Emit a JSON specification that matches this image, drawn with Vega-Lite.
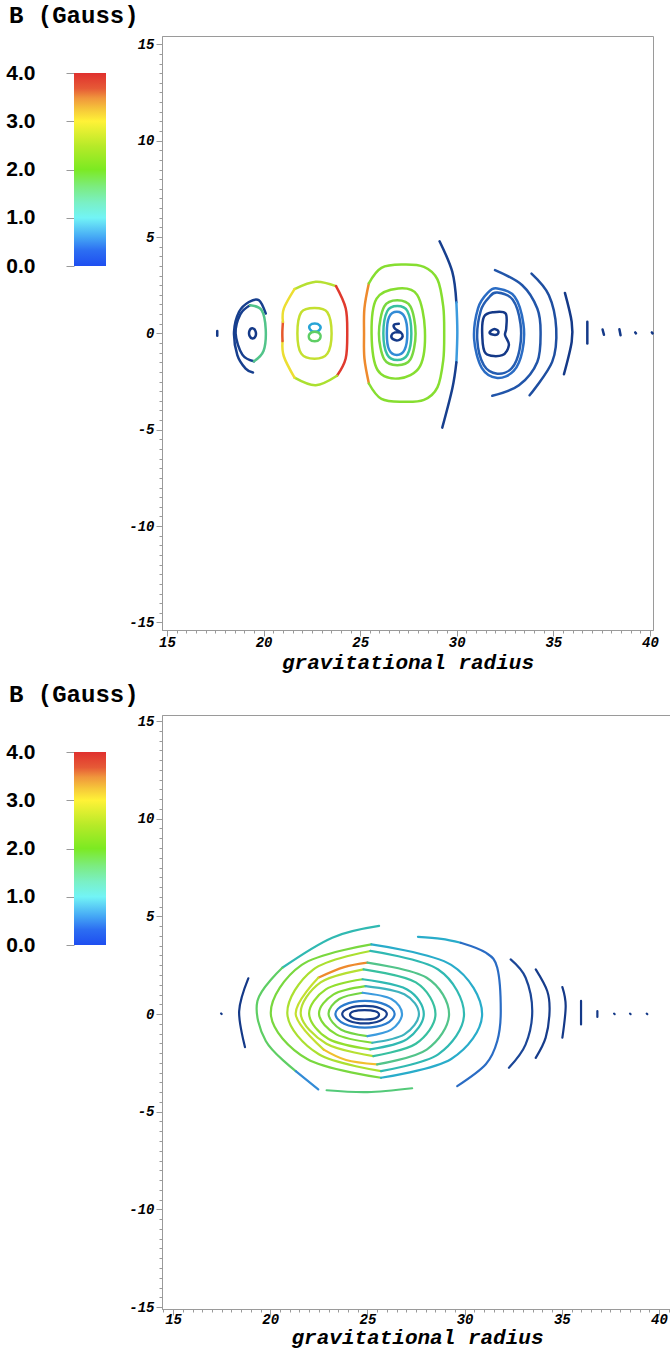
{
"$schema":"https://vega.github.io/schema/vega-lite/v6.json",
"padding":{"left":5,"top":4,"right":0,"bottom":0},
"background":"white",
"config":{"view":{"stroke":"#9a9a9a"},"axis":{"grid":false,"domainColor":"#9a9a9a","tickColor":"#9a9a9a","labelColor":"#000","titleColor":"#000"}},
"datasets":{
"cbar":[{"lo":0,"hi":4}],
"t_c":[
{"c":"r1s","x":19.42,"y":0.27,"v":0.2},{"c":"r1s","x":19.58,"y":0.12,"v":0.2},{"c":"r1s","x":19.58,"y":-0.15,"v":0.2},{"c":"r1s","x":19.42,"y":-0.26,"v":0.2},{"c":"r1s","x":19.27,"y":-0.12,"v":0.2},{"c":"r1s","x":19.27,"y":0.14,"v":0.2},
{"c":"r2i","x":22.64,"y":1.32,"v":2.7},{"c":"r2i","x":23.3,"y":1.1,"v":2.7},{"c":"r2i","x":23.52,"y":0,"v":2.7},{"c":"r2i","x":23.3,"y":-1.05,"v":2.7},{"c":"r2i","x":22.64,"y":-1.31,"v":2.7},{"c":"r2i","x":21.95,"y":-1.05,"v":2.7},{"c":"r2i","x":21.75,"y":0,"v":2.7},{"c":"r2i","x":21.95,"y":1.1,"v":2.7},
{"c":"r2u","x":22.65,"y":0.51,"v":1.0},{"c":"r2u","x":22.9,"y":0.42,"v":1.0},{"c":"r2u","x":22.92,"y":0.22,"v":1.0},{"c":"r2u","x":22.65,"y":0.08,"v":1.0},{"c":"r2u","x":22.4,"y":0.22,"v":1.0},{"c":"r2u","x":22.4,"y":0.42,"v":1.0},
{"c":"r2d","x":22.65,"y":0.08,"v":1.7},{"c":"r2d","x":22.93,"y":-0.05,"v":1.7},{"c":"r2d","x":22.9,"y":-0.3,"v":1.7},{"c":"r2d","x":22.65,"y":-0.41,"v":1.7},{"c":"r2d","x":22.38,"y":-0.3,"v":1.7},{"c":"r2d","x":22.37,"y":-0.05,"v":1.7},
{"c":"r3b","x":26.97,"y":2.33,"v":2.2},{"c":"r3b","x":27.95,"y":2.0,"v":2.2},{"c":"r3b","x":28.35,"y":0.2,"v":2.2},{"c":"r3b","x":28.1,"y":-1.7,"v":2.2},{"c":"r3b","x":27.0,"y":-2.34,"v":2.2},{"c":"r3b","x":25.9,"y":-1.9,"v":2.2},{"c":"r3b","x":25.59,"y":0,"v":2.2},{"c":"r3b","x":25.85,"y":1.8,"v":2.2},
{"c":"r3c","x":26.92,"y":1.72,"v":2.0},{"c":"r3c","x":27.6,"y":1.4,"v":2.0},{"c":"r3c","x":27.87,"y":0,"v":2.0},{"c":"r3c","x":27.6,"y":-1.35,"v":2.0},{"c":"r3c","x":26.92,"y":-1.65,"v":2.0},{"c":"r3c","x":26.25,"y":-1.35,"v":2.0},{"c":"r3c","x":25.97,"y":0,"v":2.0},{"c":"r3c","x":26.25,"y":1.4,"v":2.0},
{"c":"r3d","x":26.92,"y":1.42,"v":1.4},{"c":"r3d","x":27.45,"y":1.15,"v":1.4},{"c":"r3d","x":27.65,"y":0,"v":1.4},{"c":"r3d","x":27.45,"y":-1.1,"v":1.4},{"c":"r3d","x":26.92,"y":-1.38,"v":1.4},{"c":"r3d","x":26.4,"y":-1.1,"v":1.4},{"c":"r3d","x":26.2,"y":0,"v":1.4},{"c":"r3d","x":26.4,"y":1.15,"v":1.4},
{"c":"r3e","x":26.9,"y":1.12,"v":0.8},{"c":"r3e","x":27.3,"y":0.85,"v":0.8},{"c":"r3e","x":27.44,"y":0,"v":0.8},{"c":"r3e","x":27.3,"y":-0.85,"v":0.8},{"c":"r3e","x":26.9,"y":-1.12,"v":0.8},{"c":"r3e","x":26.5,"y":-0.85,"v":0.8},{"c":"r3e","x":26.38,"y":0,"v":0.8},{"c":"r3e","x":26.5,"y":0.85,"v":0.8},
{"c":"r4a","x":32.1,"y":2.33,"v":0.6},{"c":"r4a","x":33.0,"y":1.9,"v":0.6},{"c":"r4a","x":33.45,"y":0.5,"v":0.6},{"c":"r4a","x":33.4,"y":-0.9,"v":0.6},{"c":"r4a","x":32.95,"y":-1.95,"v":0.6},{"c":"r4a","x":32.1,"y":-2.31,"v":0.6},{"c":"r4a","x":31.3,"y":-1.8,"v":0.6},{"c":"r4a","x":30.9,"y":-0.3,"v":0.6},{"c":"r4a","x":31.1,"y":1.3,"v":0.6},{"c":"r4a","x":31.6,"y":2.1,"v":0.6},
{"c":"r4b","x":32.1,"y":2.12,"v":0.5},{"c":"r4b","x":32.9,"y":1.75,"v":0.5},{"c":"r4b","x":33.3,"y":0.5,"v":0.5},{"c":"r4b","x":33.25,"y":-0.85,"v":0.5},{"c":"r4b","x":32.85,"y":-1.8,"v":0.5},{"c":"r4b","x":32.1,"y":-2.09,"v":0.5},{"c":"r4b","x":31.4,"y":-1.65,"v":0.5},{"c":"r4b","x":31.06,"y":-0.3,"v":0.5},{"c":"r4b","x":31.25,"y":1.2,"v":0.5},{"c":"r4b","x":31.7,"y":1.9,"v":0.5},
{"c":"r4c","x":31.41,"y":0.86,"v":0.2},{"c":"r4c","x":31.9,"y":1.1,"v":0.2},{"c":"r4c","x":32.53,"y":1.03,"v":0.2},{"c":"r4c","x":32.56,"y":0.25,"v":0.2},{"c":"r4c","x":32.5,"y":-0.09,"v":0.2},{"c":"r4c","x":32.7,"y":-0.61,"v":0.2},{"c":"r4c","x":32.36,"y":-1.13,"v":0.2},{"c":"r4c","x":31.5,"y":-1.04,"v":0.2},{"c":"r4c","x":31.32,"y":-0.09,"v":0.2},
{"c":"r4d","x":31.92,"y":0.22,"v":0.2},{"c":"r4d","x":32.15,"y":0.12,"v":0.2},{"c":"r4d","x":32.1,"y":-0.05,"v":0.2},{"c":"r4d","x":31.85,"y":-0.06,"v":0.2},{"c":"r4d","x":31.7,"y":0.06,"v":0.2}
],
"t_o":[
{"c":"t0","x":17.6,"y":0.12,"v":0.2},{"c":"t0","x":17.6,"y":-0.12,"v":0.2},
{"c":"r1o","x":20.11,"y":1.03,"v":0.3},{"c":"r1o","x":19.76,"y":1.72,"v":0.3},{"c":"r1o","x":19.24,"y":1.63,"v":0.3},{"c":"r1o","x":18.73,"y":1.12,"v":0.3},{"c":"r1o","x":18.47,"y":0.08,"v":0.3},{"c":"r1o","x":18.64,"y":-1.13,"v":0.3},{"c":"r1o","x":19.07,"y":-1.83,"v":0.3},{"c":"r1o","x":19.45,"y":-2.03,"v":0.3},
{"c":"r1iL","x":19.3,"y":1.46,"v":0.3},{"c":"r1iL","x":18.8,"y":1.0,"v":0.3},{"c":"r1iL","x":18.55,"y":0,"v":0.3},{"c":"r1iL","x":18.9,"y":-1.1,"v":0.3},{"c":"r1iL","x":19.5,"y":-1.45,"v":0.3},
{"c":"r1iR","x":19.5,"y":-1.45,"v":1.5},{"c":"r1iR","x":20.0,"y":-0.9,"v":1.5},{"c":"r1iR","x":20.11,"y":0.2,"v":1.5},{"c":"r1iR","x":19.9,"y":1.2,"v":1.5},{"c":"r1iR","x":19.3,"y":1.46,"v":1.5},
{"c":"r2A","x":21.6,"y":2.3,"v":2.6},{"c":"r2A","x":22.7,"y":2.68,"v":2.6},{"c":"r2A","x":23.75,"y":2.45,"v":2.6},
{"c":"r2B","x":23.75,"y":2.45,"v":3.8},{"c":"r2B","x":24.25,"y":1.3,"v":3.8},{"c":"r2B","x":24.33,"y":0,"v":3.8},{"c":"r2B","x":24.25,"y":-1.3,"v":3.8},{"c":"r2B","x":23.8,"y":-2.2,"v":3.8},
{"c":"r2C","x":23.8,"y":-2.2,"v":2.5},{"c":"r2C","x":22.7,"y":-2.69,"v":2.5},{"c":"r2C","x":21.6,"y":-2.3,"v":2.5},
{"c":"r2D1","x":21.6,"y":-2.3,"v":3.0},{"c":"r2D1","x":21.05,"y":-1.2,"v":3.0},{"c":"r2D1","x":20.98,"y":-0.4,"v":3.0},
{"c":"r2D2","x":20.98,"y":-0.4,"v":3.7},{"c":"r2D2","x":20.97,"y":0.05,"v":3.7},{"c":"r2D2","x":21.0,"y":0.6,"v":3.7},
{"c":"r2D3","x":21.0,"y":0.6,"v":3.0},{"c":"r2D3","x":21.05,"y":1.3,"v":3.0},{"c":"r2D3","x":21.6,"y":2.3,"v":3.0},
{"c":"r3L","x":25.45,"y":2.6,"v":3.5},{"c":"r3L","x":25.22,"y":1.3,"v":3.5},{"c":"r3L","x":25.2,"y":0,"v":3.5},{"c":"r3L","x":25.22,"y":-1.3,"v":3.5},{"c":"r3L","x":25.45,"y":-2.6,"v":3.5},
{"c":"r3R","x":25.45,"y":-2.6,"v":2.2},{"c":"r3R","x":26.1,"y":-3.4,"v":2.2},{"c":"r3R","x":27.2,"y":-3.55,"v":2.2},{"c":"r3R","x":28.3,"y":-3.45,"v":2.2},{"c":"r3R","x":29.0,"y":-2.8,"v":2.2},{"c":"r3R","x":29.3,"y":-1.4,"v":2.2},{"c":"r3R","x":29.35,"y":0,"v":2.2},{"c":"r3R","x":29.3,"y":1.4,"v":2.2},{"c":"r3R","x":29.0,"y":2.8,"v":2.2},{"c":"r3R","x":28.3,"y":3.45,"v":2.2},{"c":"r3R","x":27.2,"y":3.57,"v":2.2},{"c":"r3R","x":26.1,"y":3.4,"v":2.2},{"c":"r3R","x":25.45,"y":2.6,"v":2.2},
{"c":"r3x","x":27.0,"y":0.5,"v":0.2},{"c":"r3x","x":26.75,"y":0.45,"v":0.2},{"c":"r3x","x":26.8,"y":0.25,"v":0.2},{"c":"r3x","x":27.1,"y":0.05,"v":0.2},{"c":"r3x","x":27.2,"y":-0.15,"v":0.2},{"c":"r3x","x":27.0,"y":-0.35,"v":0.2},{"c":"r3x","x":26.7,"y":-0.3,"v":0.2},{"c":"r3x","x":26.62,"y":-0.1,"v":0.2},{"c":"r3x","x":26.8,"y":0.05,"v":0.2},{"c":"r3x","x":27.1,"y":0.05,"v":0.2},
{"c":"aR1","x":29.11,"y":4.78,"v":0.3},{"c":"aR1","x":29.77,"y":3.19,"v":0.3},{"c":"aR1","x":29.98,"y":1.6,"v":0.3},
{"c":"aR2","x":29.98,"y":1.6,"v":0.9},{"c":"aR2","x":30.03,"y":0.08,"v":0.9},{"c":"aR2","x":29.98,"y":-1.5,"v":0.9},
{"c":"aR3","x":29.98,"y":-1.5,"v":0.3},{"c":"aR3","x":29.77,"y":-2.86,"v":0.3},{"c":"aR3","x":29.25,"y":-4.89,"v":0.3},
{"c":"a5","x":31.98,"y":3.28,"v":0.45},{"c":"a5","x":33.39,"y":2.5,"v":0.45},{"c":"a5","x":34.17,"y":1.29,"v":0.45},{"c":"a5","x":34.34,"y":0.08,"v":0.45},{"c":"a5","x":34.17,"y":-1.48,"v":0.45},{"c":"a5","x":33.22,"y":-2.69,"v":0.45},{"c":"a5","x":31.84,"y":-3.24,"v":0.45},
{"c":"a6","x":33.87,"y":3.1,"v":0.4},{"c":"a6","x":34.77,"y":1.98,"v":0.4},{"c":"a6","x":35.15,"y":0.25,"v":0.4},{"c":"a6","x":34.94,"y":-1.48,"v":0.4},{"c":"a6","x":33.77,"y":-3.21,"v":0.4},
{"c":"a7","x":35.6,"y":2.1,"v":0.2},{"c":"a7","x":35.95,"y":0.6,"v":0.2},{"c":"a7","x":35.95,"y":-0.44,"v":0.2},{"c":"a7","x":35.55,"y":-2.12,"v":0.2},
{"c":"a8","x":36.76,"y":0.6,"v":0.2},{"c":"a8","x":36.76,"y":-0.53,"v":0.2},
{"c":"a9","x":37.55,"y":0.2,"v":0.2},{"c":"a9","x":37.62,"y":-0.07,"v":0.2},
{"c":"a10","x":38.42,"y":0.22,"v":0.2},{"c":"a10","x":38.48,"y":-0.1,"v":0.2},
{"c":"a11","x":39.24,"y":0.05,"v":0.2},{"c":"a11","x":39.28,"y":0,"v":0.2},
{"c":"a12","x":40.1,"y":0.05,"v":0.2},{"c":"a12","x":40.14,"y":0,"v":0.2}
],
"b_c":[
{"c":"r9","x":24.87,"y":0.67,"v":0.7},{"c":"r9","x":25.95,"y":0.47,"v":0.7},{"c":"r9","x":26.4,"y":0,"v":0.7},{"c":"r9","x":25.95,"y":-0.5,"v":0.7},{"c":"r9","x":24.87,"y":-0.7,"v":0.7},{"c":"r9","x":23.8,"y":-0.5,"v":0.7},{"c":"r9","x":23.35,"y":0,"v":0.7},{"c":"r9","x":23.8,"y":0.47,"v":0.7},
{"c":"r10","x":24.85,"y":0.42,"v":0.3},{"c":"r10","x":25.65,"y":0.3,"v":0.3},{"c":"r10","x":26.0,"y":0,"v":0.3},{"c":"r10","x":25.65,"y":-0.34,"v":0.3},{"c":"r10","x":24.85,"y":-0.48,"v":0.3},{"c":"r10","x":24.05,"y":-0.34,"v":0.3},{"c":"r10","x":23.7,"y":0,"v":0.3},{"c":"r10","x":24.05,"y":0.3,"v":0.3},
{"c":"r11","x":24.85,"y":0.2,"v":0.25},{"c":"r11","x":25.4,"y":0.14,"v":0.25},{"c":"r11","x":25.6,"y":-0.04,"v":0.25},{"c":"r11","x":25.4,"y":-0.22,"v":0.25},{"c":"r11","x":24.85,"y":-0.28,"v":0.25},{"c":"r11","x":24.3,"y":-0.22,"v":0.25},{"c":"r11","x":24.1,"y":-0.04,"v":0.25},{"c":"r11","x":24.3,"y":0.14,"v":0.25}
],
"b_o":[
{"c":"bd","x":17.47,"y":0.03,"v":0.2},{"c":"bd","x":17.5,"y":0,"v":0.2},
{"c":"bL","x":18.87,"y":1.83,"v":0.2},{"c":"bL","x":18.4,"y":0.15,"v":0.2},{"c":"bL","x":18.7,"y":-1.69,"v":0.2},
{"c":"b1a","x":25.6,"y":4.51,"v":1.3},{"c":"b1a","x":23.19,"y":3.91,"v":1.3},{"c":"b1a","x":20.62,"y":2.37,"v":1.3},
{"c":"b1b","x":20.62,"y":2.37,"v":1.7},{"c":"b1b","x":19.34,"y":0.67,"v":1.7},{"c":"b1b","x":19.77,"y":-1.38,"v":1.7},{"c":"b1b","x":21.31,"y":-2.92,"v":1.7},
{"c":"b1c","x":21.31,"y":-2.92,"v":0.8},{"c":"b1c","x":22.47,"y":-3.86,"v":0.8},
{"c":"b1d","x":22.9,"y":-3.9,"v":1.6},{"c":"b1d","x":25.0,"y":-4.0,"v":1.6},{"c":"b1d","x":27.3,"y":-3.8,"v":1.6},
{"c":"b1t","x":27.6,"y":3.95,"v":1.1},{"c":"b1t","x":28.8,"y":3.85,"v":1.1},{"c":"b1t","x":29.8,"y":3.65,"v":1.1},
{"c":"b1r","x":29.8,"y":3.65,"v":0.6},{"c":"b1r","x":31.09,"y":3.14,"v":0.6},{"c":"b1r","x":31.68,"y":2.37,"v":0.6},{"c":"b1r","x":31.86,"y":0.15,"v":0.6},{"c":"b1r","x":31.68,"y":-1.38,"v":0.6},{"c":"b1r","x":31.09,"y":-2.57,"v":0.6},{"c":"b1r","x":29.62,"y":-3.69,"v":0.6},
{"c":"b2L","x":25.2,"y":3.57,"v":2.0},{"c":"b2L","x":21.62,"y":2.52,"v":2.0},{"c":"b2L","x":20.03,"y":0,"v":2.0},{"c":"b2L","x":21.9,"y":-2.3,"v":2.0},{"c":"b2L","x":25.7,"y":-3.26,"v":2.0},
{"c":"b2R","x":25.7,"y":-3.26,"v":1.1},{"c":"b2R","x":29.31,"y":-2.3,"v":1.1},{"c":"b2R","x":30.9,"y":0,"v":1.1},{"c":"b2R","x":29.31,"y":2.52,"v":1.1},{"c":"b2R","x":25.2,"y":3.57,"v":1.1},
{"c":"b3L","x":25.15,"y":3.23,"v":2.5},{"c":"b3L","x":22.21,"y":2.28,"v":2.5},{"c":"b3L","x":20.88,"y":0,"v":2.5},{"c":"b3L","x":22.5,"y":-2.06,"v":2.5},{"c":"b3L","x":25.7,"y":-2.92,"v":2.5},
{"c":"b3R","x":25.7,"y":-2.92,"v":1.3},{"c":"b3R","x":28.64,"y":-2.06,"v":1.3},{"c":"b3R","x":29.97,"y":0,"v":1.3},{"c":"b3R","x":28.64,"y":2.28,"v":1.3},{"c":"b3R","x":25.15,"y":3.23,"v":1.3},
{"c":"b4a","x":25.0,"y":2.63,"v":3.5},{"c":"b4a","x":23.8,"y":2.4,"v":3.5},{"c":"b4a","x":22.47,"y":1.86,"v":3.5},
{"c":"b4b","x":22.47,"y":1.86,"v":2.7},{"c":"b4b","x":21.31,"y":0,"v":2.7},{"c":"b4b","x":22.75,"y":-1.82,"v":2.7},
{"c":"b4c","x":22.75,"y":-1.82,"v":3.2},{"c":"b4c","x":23.9,"y":-2.35,"v":3.2},{"c":"b4c","x":25.5,"y":-2.58,"v":3.2},
{"c":"b4r","x":25.5,"y":-2.58,"v":1.5},{"c":"b4r","x":28.05,"y":-1.82,"v":1.5},{"c":"b4r","x":29.2,"y":0,"v":1.5},{"c":"b4r","x":28.05,"y":1.86,"v":1.5},{"c":"b4r","x":25.0,"y":2.63,"v":1.5},
{"c":"b5L","x":24.8,"y":2.29,"v":2.6},{"c":"b5L","x":22.59,"y":1.62,"v":2.6},{"c":"b5L","x":21.57,"y":0,"v":2.6},{"c":"b5L","x":22.89,"y":-1.52,"v":2.6},{"c":"b5L","x":25.3,"y":-2.15,"v":2.6},
{"c":"b5R","x":25.3,"y":-2.15,"v":1.4},{"c":"b5R","x":27.49,"y":-1.52,"v":1.4},{"c":"b5R","x":28.5,"y":0,"v":1.4},{"c":"b5R","x":27.49,"y":1.62,"v":1.4},{"c":"b5R","x":24.8,"y":2.29,"v":1.4},
{"c":"b6L","x":24.75,"y":1.78,"v":2.3},{"c":"b6L","x":22.86,"y":1.26,"v":2.3},{"c":"b6L","x":22.0,"y":0,"v":2.3},{"c":"b6L","x":23.0,"y":-1.28,"v":2.3},{"c":"b6L","x":25.15,"y":-1.81,"v":2.3},
{"c":"b6R","x":25.15,"y":-1.81,"v":1.3},{"c":"b6R","x":27.04,"y":-1.28,"v":1.3},{"c":"b6R","x":27.9,"y":0,"v":1.3},{"c":"b6R","x":27.04,"y":1.26,"v":1.3},{"c":"b6R","x":24.75,"y":1.78,"v":1.3},
{"c":"b7L","x":24.9,"y":1.43,"v":2.1},{"c":"b7L","x":23.26,"y":1.01,"v":2.1},{"c":"b7L","x":22.51,"y":0,"v":2.1},{"c":"b7L","x":23.4,"y":-1.04,"v":2.1},{"c":"b7L","x":25.25,"y":-1.47,"v":2.1},
{"c":"b7R","x":25.25,"y":-1.47,"v":1.2},{"c":"b7R","x":26.9,"y":-1.04,"v":1.2},{"c":"b7R","x":27.65,"y":0,"v":1.2},{"c":"b7R","x":26.9,"y":1.01,"v":1.2},{"c":"b7R","x":24.9,"y":1.43,"v":1.2},
{"c":"b8L","x":24.75,"y":1.09,"v":1.9},{"c":"b8L","x":23.55,"y":0.77,"v":1.9},{"c":"b8L","x":23.0,"y":0,"v":1.9},{"c":"b8L","x":23.65,"y":-0.8,"v":1.9},{"c":"b8L","x":25.0,"y":-1.13,"v":1.9},
{"c":"b8R","x":25.0,"y":-1.13,"v":0.9},{"c":"b8R","x":26.23,"y":-0.8,"v":0.9},{"c":"b8R","x":26.78,"y":0,"v":0.9},{"c":"b8R","x":26.23,"y":0.77,"v":0.9},{"c":"b8R","x":24.75,"y":1.09,"v":0.9},
{"c":"bc","x":32.37,"y":2.8,"v":0.35},{"c":"bc","x":33.14,"y":1.86,"v":0.35},{"c":"bc","x":33.48,"y":0.15,"v":0.35},{"c":"bc","x":33.14,"y":-1.55,"v":0.35},{"c":"bc","x":32.28,"y":-2.75,"v":0.35},
{"c":"bdd","x":33.66,"y":2.29,"v":0.25},{"c":"bdd","x":34.25,"y":1.18,"v":0.25},{"c":"bdd","x":34.37,"y":0.15,"v":0.25},{"c":"bdd","x":34.17,"y":-1.21,"v":0.25},{"c":"bdd","x":33.66,"y":-2.24,"v":0.25},
{"c":"be","x":35.03,"y":1.38,"v":0.2},{"c":"be","x":35.2,"y":0.41,"v":0.2},{"c":"be","x":35.03,"y":-1.21,"v":0.2},
{"c":"bf","x":35.99,"y":0.67,"v":0.2},{"c":"bf","x":35.99,"y":-0.53,"v":0.2},
{"c":"bg","x":36.83,"y":0.15,"v":0.2},{"c":"bg","x":36.83,"y":-0.15,"v":0.2},
{"c":"bh1","x":37.69,"y":0.02,"v":0.2},{"c":"bh1","x":37.72,"y":0,"v":0.2},
{"c":"bh2","x":38.51,"y":0.02,"v":0.2},{"c":"bh2","x":38.54,"y":0,"v":0.2},
{"c":"bh3","x":39.37,"y":0.02,"v":0.2},{"c":"bh3","x":39.4,"y":0,"v":0.2}
]
},
"columns":2,
"spacing":{"row":85,"column":56},
"bounds":"flush",
"align":"each",
"concat":[
 {"width":32,"height":230,"view":{"stroke":null},
  "title":{"text":"B (Gauss)","anchor":"start","frame":"group","dx":-65,"offset":-11,"baseline":"alphabetic","font":"Liberation Mono","fontSize":24,"fontWeight":"bold","color":"#000"},
  "data":{"name":"cbar"},
  "mark":{"type":"rect","fill":{"gradient":"linear","x1":0,"y1":1,"x2":0,"y2":0,"stops":[{"offset":0,"color":"#1e4ef0"},{"offset":0.08,"color":"#2c6ef2"},{"offset":0.15,"color":"#45a8f5"},{"offset":0.25,"color":"#72f4f6"},{"offset":0.33,"color":"#7af0c4"},{"offset":0.41,"color":"#7cec80"},{"offset":0.5,"color":"#7cea22"},{"offset":0.62,"color":"#b6ea28"},{"offset":0.75,"color":"#fff237"},{"offset":0.81,"color":"#f6c83a"},{"offset":0.87,"color":"#f0963c"},{"offset":0.92,"color":"#e65a36"},{"offset":1,"color":"#e0302e"}]}},
  "encoding":{
   "y":{"field":"lo","type":"quantitative","scale":{"domain":[0,4.767],"nice":false},"axis":{"values":[0,1,2,3,4],"format":".1f","labelFont":"Liberation Sans","labelFontSize":21,"labelFontWeight":"bold","tickSize":8,"domain":false,"labelPadding":31,"title":null}},
   "y2":{"field":"hi"}
  }
 },
 {"width":491,"height":594,
  "encoding":{
   "x":{"field":"x","type":"quantitative","scale":{"domain":[14.74,40.16],"nice":false,"zero":false},"axis":{"tickCount":50,"labelExpr":"datum.value % 5 === 0 ? '' + datum.value : ''","labelOverlap":false,"tickSize":{"condition":{"test":"datum.value % 5 === 0","value":6},"value":3},"labelFont":"Liberation Mono","labelFontStyle":"italic","labelFontWeight":"bold","labelFontSize":14,"labelPadding":-1,"title":"gravitational radius","titleFont":"Liberation Mono","titleFontSize":21,"titleFontStyle":"italic","titleFontWeight":"bold","titlePadding":2}},
   "y":{"field":"y","type":"quantitative","scale":{"domain":[-15.39,15.43],"nice":false,"zero":false},"axis":{"tickCount":60,"labelExpr":"datum.value % 5 === 0 ? '' + datum.value : ''","labelOverlap":false,"tickSize":{"condition":{"test":"datum.value % 5 === 0","value":6},"value":3},"labelFont":"Liberation Mono","labelFontStyle":"italic","labelFontWeight":"bold","labelFontSize":14,"labelPadding":2,"title":null}},
   "color":{"field":"v","type":"quantitative","scale":{"domain":[0,0.3,0.6,0.9,1.2,1.5,1.8,2.2,2.6,3.0,3.4,3.8,4.0],"range":["#0f2c7c","#173f8e","#2a6cc4","#3c9bde","#3eb2be","#52c48a","#6ed24a","#86de30","#b6e032","#ecde32","#f0a034","#e03a2e","#d8302a"]},"legend":null},
   "detail":{"field":"c"},
   "order":{"value":null}
  },
  "layer":[
   {"data":{"name":"t_c"},"mark":{"type":"line","interpolate":"cardinal-closed","strokeWidth":2.5}},
   {"data":{"name":"t_o"},"mark":{"type":"line","interpolate":"cardinal","strokeWidth":2.5,"strokeCap":"round"}}
  ]
 },
 {"width":32,"height":230,"view":{"stroke":null},
  "title":{"text":"B (Gauss)","anchor":"start","frame":"group","dx":-65,"offset":-11,"baseline":"alphabetic","font":"Liberation Mono","fontSize":24,"fontWeight":"bold","color":"#000"},
  "data":{"name":"cbar"},
  "mark":{"type":"rect","fill":{"gradient":"linear","x1":0,"y1":1,"x2":0,"y2":0,"stops":[{"offset":0,"color":"#1e4ef0"},{"offset":0.08,"color":"#2c6ef2"},{"offset":0.15,"color":"#45a8f5"},{"offset":0.25,"color":"#72f4f6"},{"offset":0.33,"color":"#7af0c4"},{"offset":0.41,"color":"#7cec80"},{"offset":0.5,"color":"#7cea22"},{"offset":0.62,"color":"#b6ea28"},{"offset":0.75,"color":"#fff237"},{"offset":0.81,"color":"#f6c83a"},{"offset":0.87,"color":"#f0963c"},{"offset":0.92,"color":"#e65a36"},{"offset":1,"color":"#e0302e"}]}},
  "encoding":{
   "y":{"field":"lo","type":"quantitative","scale":{"domain":[0,4.767],"nice":false},"axis":{"values":[0,1,2,3,4],"format":".1f","labelFont":"Liberation Sans","labelFontSize":21,"labelFontWeight":"bold","tickSize":8,"domain":false,"labelPadding":31,"title":null}},
   "y2":{"field":"hi"}
  }
 },
 {"width":510,"height":594,
  "encoding":{
   "x":{"field":"x","type":"quantitative","scale":{"domain":[14.43,40.67],"nice":false,"zero":false},"axis":{"tickCount":52,"labelExpr":"datum.value % 5 === 0 ? '' + datum.value : ''","labelOverlap":false,"tickSize":{"condition":{"test":"datum.value % 5 === 0","value":6},"value":3},"labelFont":"Liberation Mono","labelFontStyle":"italic","labelFontWeight":"bold","labelFontSize":14,"labelPadding":-3,"title":"gravitational radius","titleFont":"Liberation Mono","titleFontSize":21,"titleFontStyle":"italic","titleFontWeight":"bold","titlePadding":0}},
   "y":{"field":"y","type":"quantitative","scale":{"domain":[-15.1,15.31],"nice":false,"zero":false},"axis":{"tickCount":60,"labelExpr":"datum.value % 5 === 0 ? '' + datum.value : ''","labelOverlap":false,"tickSize":{"condition":{"test":"datum.value % 5 === 0","value":6},"value":3},"labelFont":"Liberation Mono","labelFontStyle":"italic","labelFontWeight":"bold","labelFontSize":14,"labelPadding":2,"title":null}},
   "color":{"field":"v","type":"quantitative","scale":{"domain":[0,0.3,0.6,0.9,1.2,1.5,1.8,2.2,2.6,3.0,3.4,3.8,4.0],"range":["#0f2c7c","#173f8e","#2a6cc4","#3c9bde","#3eb2be","#52c48a","#6ed24a","#86de30","#b6e032","#ecde32","#f0a034","#e03a2e","#d8302a"]},"legend":null},
   "detail":{"field":"c"},
   "order":{"value":null}
  },
  "layer":[
   {"data":{"name":"b_c"},"mark":{"type":"line","interpolate":"cardinal-closed","strokeWidth":2.2}},
   {"data":{"name":"b_o"},"mark":{"type":"line","interpolate":"cardinal","strokeWidth":2.2,"strokeCap":"round"}}
  ]
 }
]
}
